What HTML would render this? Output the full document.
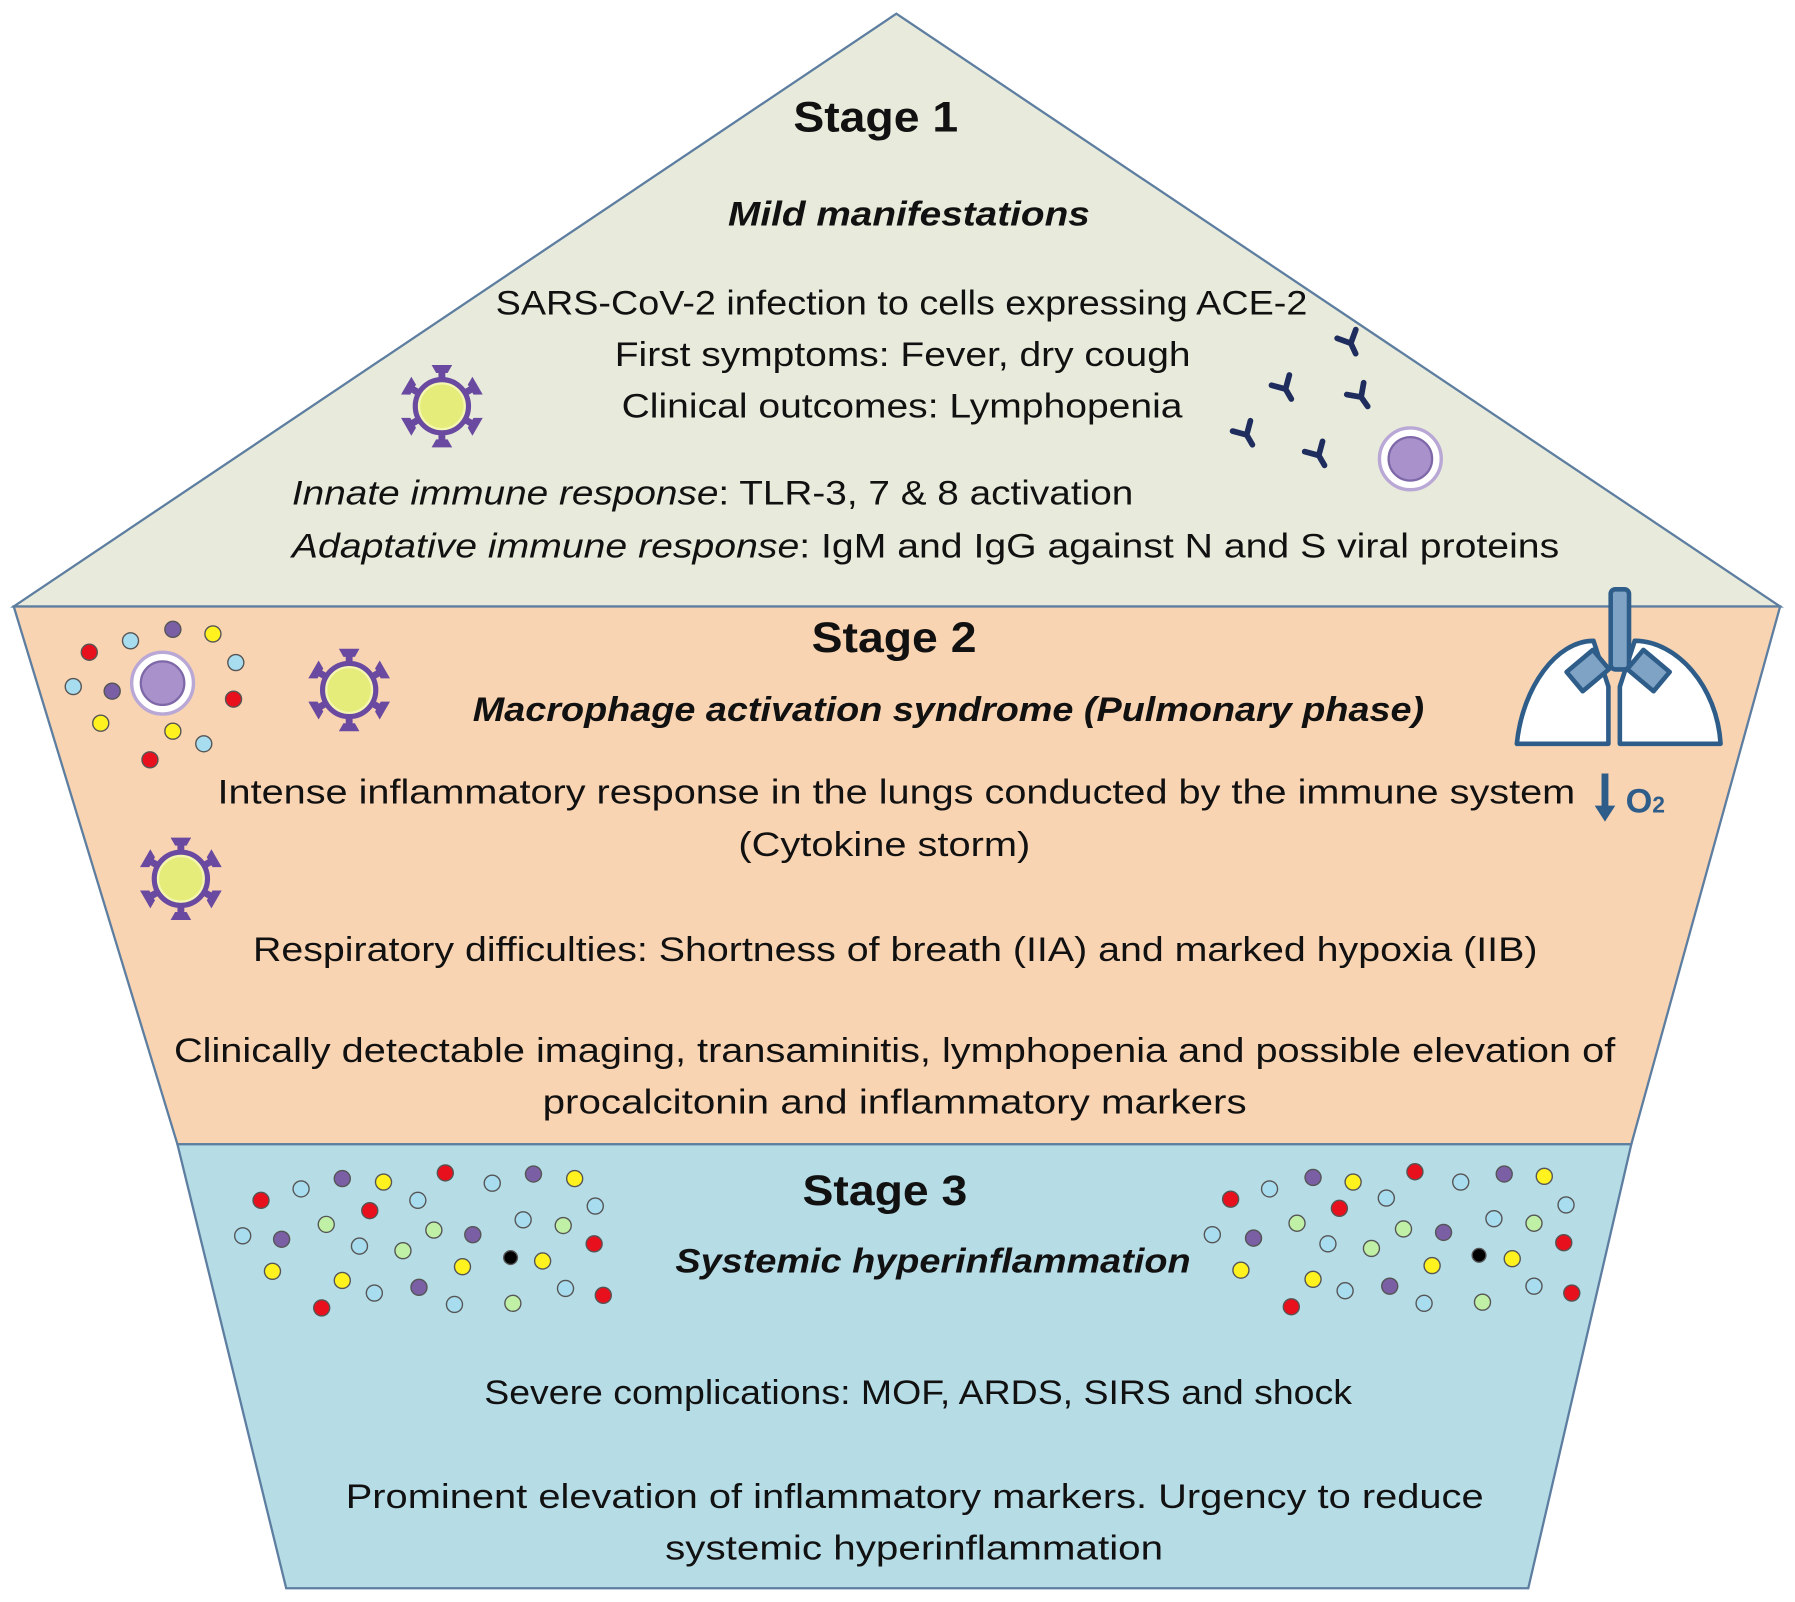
<!DOCTYPE html>
<html><head><meta charset="utf-8"><style>html,body{margin:0;padding:0;background:#fff}svg{display:block}</style></head>
<body>
<svg width="1795" height="1602" viewBox="0 0 1568 1400" preserveAspectRatio="none" xmlns="http://www.w3.org/2000/svg" font-family="Liberation Sans, sans-serif" fill="#111">
<defs>
<g id="virus">
 <g fill="#6a4aa0">
  <g id="sp"><rect x="-3" y="-34" width="6" height="14"/><path d="M-9,-36 L9,-36 L5,-29 L-5,-29Z"/></g>
  <use href="#sp" transform="rotate(60)"/><use href="#sp" transform="rotate(120)"/><use href="#sp" transform="rotate(180)"/><use href="#sp" transform="rotate(240)"/><use href="#sp" transform="rotate(300)"/>
 </g>
 <circle r="23" fill="#e6ec7a" stroke="#6a4aa0" stroke-width="5"/>
 <circle r="20" fill="none" stroke="#f4f7b0" stroke-width="2"/>
</g>
<g id="ab" fill="none" stroke="#1f2d5e" stroke-width="5" stroke-linecap="round"><path d="M0,10 L0,0 M0,0 L-9,-9 M0,0 L9,-9"/></g>
<g id="cell"><circle r="27" fill="#fff" stroke="#b9a8d6" stroke-width="3"/><circle r="19" fill="#a992cc" stroke="#7e68a8" stroke-width="2"/></g>
</defs>
<g stroke="#5d7ea0" stroke-width="2">
<polygon points="783,12 1555,530 12,530" fill="#e8ebdb"/>
<polygon points="12,530 1555,530 1425,1000 155,1000" fill="#f9d4b2"/>
<polygon points="155,1000 1425,1000 1335,1388 250,1388" fill="#b6dce6"/>
</g>
<g text-anchor="start">
<text x="693" y="115" font-size="37" font-weight="bold" textLength="144" lengthAdjust="spacingAndGlyphs">Stage 1</text>
<text x="636" y="197" font-size="30" font-weight="bold" font-style="italic" textLength="316" lengthAdjust="spacingAndGlyphs">Mild manifestations</text>
<text x="433" y="275" font-size="30" textLength="709" lengthAdjust="spacingAndGlyphs">SARS-CoV-2 infection to cells expressing ACE-2</text>
<text x="537" y="320" font-size="30" textLength="503" lengthAdjust="spacingAndGlyphs">First symptoms: Fever, dry cough</text>
<text x="543" y="365" font-size="30" textLength="490" lengthAdjust="spacingAndGlyphs">Clinical outcomes: Lymphopenia</text>
<text x="255" y="441" font-size="30" textLength="735" lengthAdjust="spacingAndGlyphs"><tspan font-style="italic">Innate immune response</tspan>: TLR-3, 7 &amp; 8 activation</text>
<text x="255" y="487" font-size="30" textLength="1107" lengthAdjust="spacingAndGlyphs"><tspan font-style="italic">Adaptative immune response</tspan>: IgM and IgG against  N and S viral proteins</text>
<text x="709" y="570" font-size="37" font-weight="bold" textLength="144" lengthAdjust="spacingAndGlyphs">Stage 2</text>
<text x="413" y="630" font-size="30" font-weight="bold" font-style="italic" textLength="831" lengthAdjust="spacingAndGlyphs">Macrophage activation syndrome (Pulmonary phase)</text>
<text x="190" y="702" font-size="30" textLength="1186" lengthAdjust="spacingAndGlyphs">Intense inflammatory response in the lungs conducted by the immune system</text>
<text x="645" y="748" font-size="30" textLength="255" lengthAdjust="spacingAndGlyphs">(Cytokine storm)</text>
<text x="221" y="840" font-size="30" textLength="1122" lengthAdjust="spacingAndGlyphs">Respiratory difficulties: Shortness of breath (IIA) and marked hypoxia (IIB)</text>
<text x="152" y="928" font-size="30" textLength="1259" lengthAdjust="spacingAndGlyphs">Clinically detectable imaging, transaminitis, lymphopenia and possible elevation of</text>
<text x="474" y="973" font-size="30" textLength="615" lengthAdjust="spacingAndGlyphs">procalcitonin and inflammatory markers</text>
<text x="701" y="1053" font-size="37" font-weight="bold" textLength="144" lengthAdjust="spacingAndGlyphs">Stage 3</text>
<text x="590" y="1112" font-size="30" font-weight="bold" font-style="italic" textLength="450" lengthAdjust="spacingAndGlyphs">Systemic hyperinflammation</text>
<text x="423" y="1227" font-size="30" textLength="758" lengthAdjust="spacingAndGlyphs">Severe complications: MOF, ARDS, SIRS and shock</text>
<text x="302" y="1318" font-size="30" textLength="994" lengthAdjust="spacingAndGlyphs">Prominent elevation of inflammatory markers. Urgency to reduce</text>
<text x="581" y="1363" font-size="30" textLength="435" lengthAdjust="spacingAndGlyphs">systemic hyperinflammation</text>
</g>
<use href="#virus" transform="translate(386,355)"/>
<use href="#virus" transform="translate(305,603)"/>
<use href="#virus" transform="translate(158,768)"/>
<use href="#ab" transform="translate(1180,300) rotate(-25)"/>
<use href="#ab" transform="translate(1123,340) rotate(-30)"/>
<use href="#ab" transform="translate(1189,347) rotate(-35)"/>
<use href="#ab" transform="translate(1089,380) rotate(-30)"/>
<use href="#ab" transform="translate(1152,398) rotate(-30)"/>
<use href="#cell" transform="translate(1232,401)"/>
<use href="#cell" transform="translate(142,597)"/>
<!-- lungs -->
<g fill="#fff" stroke="#2f5d8a" stroke-width="4" stroke-linejoin="round">
<path d="M1392,560 C1360,560 1330,600 1325,650 L1405,650 L1405,600 Z"/>
<path d="M1428,560 C1465,560 1500,600 1503,650 L1415,650 L1415,600 Z"/>
<rect x="1407" y="515" width="16" height="70" rx="4" fill="#7fa3c5"/>
<rect x="1372" y="575" width="30" height="22" transform="rotate(-40 1387 586)" fill="#7fa3c5"/>
<rect x="1425" y="575" width="30" height="22" transform="rotate(40 1440 586)" fill="#7fa3c5"/>
</g>
<path d="M1402,676 L1402,706" stroke="#2f5d8a" stroke-width="6"/>
<path d="M1393,704 L1411,704 L1402,718 Z" fill="#2f5d8a"/>
<text x="1420" y="710" font-size="30" font-weight="bold" fill="#2f5d8a">O<tspan font-size="20">2</tspan></text>
<g stroke-width="1.5" stroke="#666">
<g id="dots">
</g>
</g>
<g stroke="#555" stroke-width="1.2">
<!-- stage 2 dots -->
<circle cx="78" cy="570" r="7" fill="#e8101c"/><circle cx="114" cy="560" r="7" fill="#a8dcef"/><circle cx="151" cy="550" r="7" fill="#7a5fa5"/><circle cx="186" cy="554" r="7" fill="#fff21f"/><circle cx="206" cy="579" r="7" fill="#a8dcef"/><circle cx="64" cy="600" r="7" fill="#a8dcef"/><circle cx="98" cy="604" r="7" fill="#7a5fa5"/><circle cx="204" cy="611" r="7" fill="#e8101c"/><circle cx="88" cy="632" r="7" fill="#fff21f"/><circle cx="151" cy="639" r="7" fill="#fff21f"/><circle cx="178" cy="650" r="7" fill="#a8dcef"/><circle cx="131" cy="664" r="7" fill="#e8101c"/>
<!-- stage 3 left -->
<circle cx="228" cy="1049" r="7" fill="#e8101c"/><circle cx="263" cy="1039" r="7" fill="#a8dcef"/><circle cx="299" cy="1030" r="7" fill="#7a5fa5"/><circle cx="335" cy="1033" r="7" fill="#fff21f"/><circle cx="389" cy="1025" r="7" fill="#e8101c"/><circle cx="430" cy="1034" r="7" fill="#a8dcef"/><circle cx="466" cy="1026" r="7" fill="#7a5fa5"/><circle cx="502" cy="1030" r="7" fill="#fff21f"/><circle cx="520" cy="1054" r="7" fill="#a8dcef"/><circle cx="212" cy="1080" r="7" fill="#a8dcef"/><circle cx="246" cy="1083" r="7" fill="#7a5fa5"/><circle cx="285" cy="1070" r="7" fill="#bff0a6"/><circle cx="323" cy="1058" r="7" fill="#e8101c"/><circle cx="365" cy="1049" r="7" fill="#a8dcef"/><circle cx="314" cy="1089" r="7" fill="#a8dcef"/><circle cx="352" cy="1093" r="7" fill="#bff0a6"/><circle cx="379" cy="1075" r="7" fill="#bff0a6"/><circle cx="413" cy="1079" r="7" fill="#7a5fa5"/><circle cx="457" cy="1066" r="7" fill="#a8dcef"/><circle cx="492" cy="1071" r="7" fill="#bff0a6"/><circle cx="519" cy="1087" r="7" fill="#e8101c"/><circle cx="238" cy="1111" r="7" fill="#fff21f"/><circle cx="299" cy="1119" r="7" fill="#fff21f"/><circle cx="404" cy="1107" r="7" fill="#fff21f"/><circle cx="446" cy="1099" r="6" fill="#000"/><circle cx="474" cy="1102" r="7" fill="#fff21f"/><circle cx="281" cy="1143" r="7" fill="#e8101c"/><circle cx="327" cy="1130" r="7" fill="#a8dcef"/><circle cx="366" cy="1125" r="7" fill="#7a5fa5"/><circle cx="397" cy="1140" r="7" fill="#a8dcef"/><circle cx="448" cy="1139" r="7" fill="#bff0a6"/><circle cx="494" cy="1126" r="7" fill="#a8dcef"/><circle cx="527" cy="1132" r="7" fill="#e8101c"/>
<!-- stage 3 right -->
<circle cx="1075" cy="1048" r="7" fill="#e8101c"/><circle cx="1109" cy="1039" r="7" fill="#a8dcef"/><circle cx="1147" cy="1029" r="7" fill="#7a5fa5"/><circle cx="1182" cy="1033" r="7" fill="#fff21f"/><circle cx="1236" cy="1024" r="7" fill="#e8101c"/><circle cx="1276" cy="1033" r="7" fill="#a8dcef"/><circle cx="1314" cy="1026" r="7" fill="#7a5fa5"/><circle cx="1349" cy="1028" r="7" fill="#fff21f"/><circle cx="1368" cy="1053" r="7" fill="#a8dcef"/><circle cx="1059" cy="1079" r="7" fill="#a8dcef"/><circle cx="1095" cy="1082" r="7" fill="#7a5fa5"/><circle cx="1133" cy="1069" r="7" fill="#bff0a6"/><circle cx="1170" cy="1056" r="7" fill="#e8101c"/><circle cx="1211" cy="1047" r="7" fill="#a8dcef"/><circle cx="1160" cy="1087" r="7" fill="#a8dcef"/><circle cx="1198" cy="1091" r="7" fill="#bff0a6"/><circle cx="1226" cy="1074" r="7" fill="#bff0a6"/><circle cx="1261" cy="1077" r="7" fill="#7a5fa5"/><circle cx="1305" cy="1065" r="7" fill="#a8dcef"/><circle cx="1340" cy="1069" r="7" fill="#bff0a6"/><circle cx="1366" cy="1086" r="7" fill="#e8101c"/><circle cx="1084" cy="1110" r="7" fill="#fff21f"/><circle cx="1147" cy="1118" r="7" fill="#fff21f"/><circle cx="1251" cy="1106" r="7" fill="#fff21f"/><circle cx="1292" cy="1097" r="6" fill="#000"/><circle cx="1321" cy="1100" r="7" fill="#fff21f"/><circle cx="1128" cy="1142" r="7" fill="#e8101c"/><circle cx="1175" cy="1128" r="7" fill="#a8dcef"/><circle cx="1214" cy="1124" r="7" fill="#7a5fa5"/><circle cx="1244" cy="1139" r="7" fill="#a8dcef"/><circle cx="1295" cy="1138" r="7" fill="#bff0a6"/><circle cx="1340" cy="1124" r="7" fill="#a8dcef"/><circle cx="1373" cy="1130" r="7" fill="#e8101c"/>
</g>
</svg>
</body></html>
